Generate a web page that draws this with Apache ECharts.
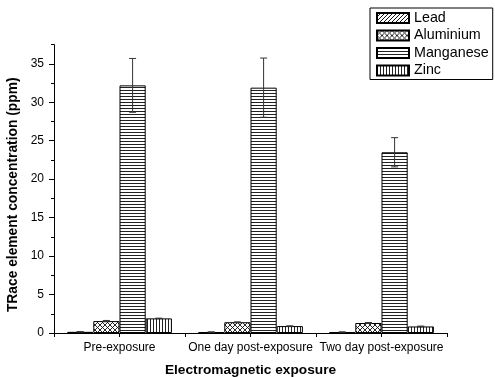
<!DOCTYPE html>
<html><head><meta charset="utf-8">
<script src="https://cdn.jsdelivr.net/npm/echarts@6/dist/echarts.min.js"></script>
<style>html,body{margin:0;padding:0;background:#fff}#c{width:495px;height:377px}</style>
</head><body><div id="c"></div>
<script>
const categories = ['Pre-exposure', 'One day post-exposure', 'Two day post-exposure'];
const seriesNames = ['Lead', 'Aluminium', 'Manganese', 'Zinc'];
const lead = [0.15, 0.12, 0.12];
const leadErr = [0.03, 0.03, 0.03];
const aluminium = [1.55, 1.4, 1.3];
const aluminiumErr = [0.08, 0.05, 0.06];
const manganese = [32.2, 31.9, 23.5];
const manganeseErr = [3.5, 3.85, 1.9];
const zinc = [1.9, 0.9, 0.85];
const zincErr = [0.03, 0.03, 0.05];
const yMin = 0, yMax = 37.5, yStep = 5, yMinorStep = 2.5;

const values = [lead, aluminium, manganese, zinc];
const errors = [leadErr, aluminiumErr, manganeseErr, zincErr];

function pattern(kind) {
  const c = document.createElement('canvas');
  const s = kind === 'cross' ? 5 : (kind === 'diag' ? 4 : 3);
  c.width = s; c.height = s;
  const ctx = c.getContext('2d');
  ctx.fillStyle = '#fff';
  ctx.fillRect(0, 0, s, s);
  ctx.strokeStyle = '#111';
  ctx.fillStyle = '#222';
  if (kind === 'diag') {
    ctx.lineWidth = 1;
    ctx.beginPath(); ctx.moveTo(-1, s + 1); ctx.lineTo(s + 1, -1); ctx.stroke();
  } else if (kind === 'cross') {
    ctx.lineWidth = 0.9;
    ctx.beginPath(); ctx.moveTo(0, s); ctx.lineTo(s, 0);
    ctx.moveTo(0, 0); ctx.lineTo(s, s); ctx.stroke();
  } else if (kind === 'horiz') {
    ctx.fillRect(0, 0, s, 1);
  } else {
    ctx.fillRect(0, 0, 1, s);
  }
  return { image: c, repeat: 'repeat' };
}
const patterns = [pattern('diag'), pattern('cross'), pattern('horiz'), pattern('vert')];

const FONT = '"Liberation Sans", Arial, sans-serif';
const chart = echarts.init(document.getElementById('c'), null, { renderer: 'canvas' });

const barSeries = seriesNames.map((name, i) => ({
  name, type: 'bar', data: values[i], xAxisIndex: 0, yAxisIndex: 0,
  barGap: '0%', barCategoryGap: '20%',
  itemStyle: { color: patterns[i], borderColor: '#000', borderWidth: 1 },
  emphasis: { disabled: true }, z: 2
}));

const errData = [];
seriesNames.forEach((n, i) => categories.forEach((c, j) => errData.push([j, i, values[i][j], errors[i][j]])));

const errSeries = {
  type: 'custom', xAxisIndex: 0, yAxisIndex: 0, z: 5, silent: true,
  data: errData,
  renderItem: function (params, api) {
    const cat = api.value(0), si = api.value(1), v = api.value(2), e = api.value(3);
    const band = api.size([1, 0])[0];
    const barW = band * 0.8 / 4;
    const off = (si - 1.5) * barW;
    const top = api.coord([cat, v + e]);
    const bot = api.coord([cat, v - e]);
    const x = top[0] + off;
    const cap = 3.5;
    const st = { stroke: '#333', lineWidth: 1 };
    return { type: 'group', children: [
      { type: 'line', shape: { x1: x, y1: top[1], x2: x, y2: bot[1] }, style: st },
      { type: 'line', shape: { x1: x - cap, y1: top[1], x2: x + cap, y2: top[1] }, style: st },
      { type: 'line', shape: { x1: x - cap, y1: bot[1], x2: x + cap, y2: bot[1] }, style: st }
    ]};
  }
};

chart.setOption({
  animation: false,
  backgroundColor: '#fff',
  textStyle: { fontFamily: FONT },
  grid: { left: 54, right: 48, top: 44.6, bottom: 44, containLabel: false, outerBoundsMode: 'none' },
  legend: {
    data: seriesNames, orient: 'vertical', left: 370, top: 8,
    icon: 'rect', itemWidth: 32, itemHeight: 10, itemGap: 3.5,
    padding: [3, 4, 2, 6], borderColor: '#000', borderWidth: 1,
    textStyle: { fontFamily: FONT, fontSize: 14.3, color: '#000', padding: [0, 0, 0, 0] },
    selectedMode: false
  },
  xAxis: [{
    type: 'category', data: categories,
    axisLine: { lineStyle: { color: '#000', width: 1 } },
    axisTick: { show: false },
    axisLabel: { color: '#000', fontSize: 12, margin: 9, fontFamily: FONT, interval: 0 },
    name: 'Electromagnetic exposure', nameLocation: 'middle', nameGap: 30,
    nameTextStyle: { fontWeight: 'bold', fontSize: 13.7, color: '#000', fontFamily: FONT }
  }, {
    type: 'value', min: 0, max: 3, interval: 0.5, position: 'bottom',
    axisLine: { show: false }, axisLabel: { show: false }, splitLine: { show: false },
    axisTick: { show: true, length: 4, lineStyle: { color: '#000' } }
  }],
  yAxis: [{
    type: 'value', min: yMin, max: yMax, interval: yStep,
    axisLine: { show: true, lineStyle: { color: '#000', width: 1 } },
    axisTick: { show: true, length: 5, lineStyle: { color: '#000' } },
    axisLabel: { color: '#000', fontSize: 12, margin: 10, showMaxLabel: false, fontFamily: FONT },
    splitLine: { show: false },
    name: 'TRace element concentration (ppm)', nameLocation: 'middle', nameGap: 31,
    nameTextStyle: { fontWeight: 'bold', fontSize: 13.8, color: '#000', fontFamily: FONT, padding: [0, 12, 0, 0] }
  }, {
    type: 'value', min: yMin, max: yMax, interval: yMinorStep, position: 'left',
    axisLine: { show: false }, axisLabel: { show: false }, splitLine: { show: false },
    axisTick: { show: true, length: 3, lineStyle: { color: '#000' } }
  }],
  series: [...barSeries, errSeries]
});
</script></body></html>
